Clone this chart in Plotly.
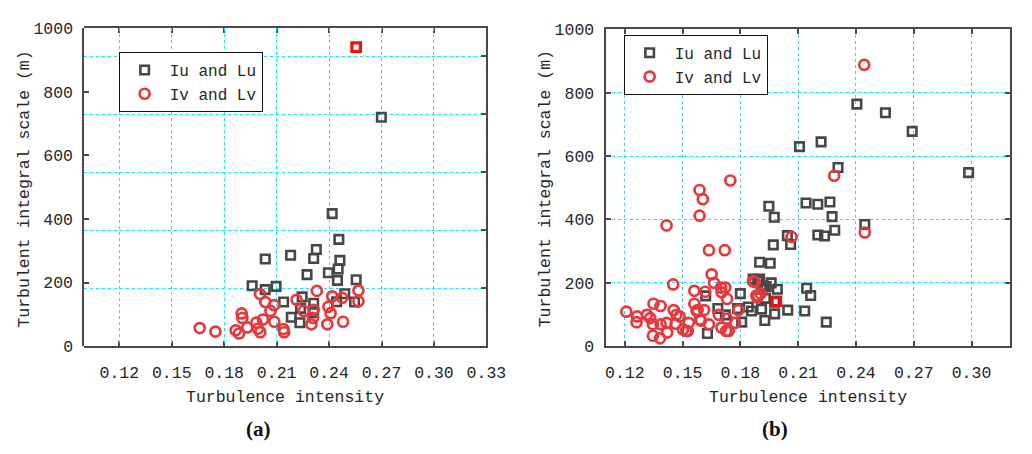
import plotly.graph_objects as go

# ---- (a) Iu/Lu and Iv/Lv samples ----
a_iu = [0.2418, 0.2456, 0.2327, 0.2312, 0.2035, 0.2180, 0.2462, 0.2452, 0.2396, 0.2274,
        0.2448, 0.2555, 0.1960, 0.2035, 0.2097, 0.2490, 0.2140, 0.2246, 0.2312, 0.2546,
        0.2443, 0.2184, 0.2233, 0.2237, 0.2312, 0.2699]
a_lu = [417, 336, 304, 276, 274, 286, 270, 243, 231, 225,
        207, 209, 190, 178, 188, 165, 139, 155, 135, 139,
        140, 91, 74, 119, 105, 720]
a_iu_hi = [0.2555]
a_lu_hi = [940]

a_iv = [0.1660, 0.1750, 0.1866, 0.1885, 0.1900, 0.1904, 0.1932, 0.1984, 0.1993, 0.2007,
        0.2005, 0.2022, 0.2035, 0.2065, 0.2085, 0.2087, 0.2139, 0.2143, 0.2214, 0.2255,
        0.2299, 0.2312, 0.2308, 0.2330, 0.2390, 0.2396, 0.2409, 0.2418, 0.2476, 0.2480,
        0.2568, 0.2568]
a_lv = [57, 46, 50, 40, 103, 89, 59, 74, 55, 44,
        164, 84, 139, 111, 129, 77, 54, 44, 146, 111,
        69, 114, 89, 174, 69, 124, 104, 157, 152, 77,
        175, 141]

# ---- (b) Iu/Lu and Iv/Lv samples ----
b_iu = [0.2405, 0.2553, 0.2692, 0.2107, 0.2219, 0.2307, 0.2985, 0.1948, 0.1976, 0.2141,
        0.2202, 0.2265, 0.2276, 0.2202, 0.2237, 0.2290, 0.2446, 0.1971, 0.2044, 0.2061,
        0.1900, 0.1955, 0.2144, 0.2165, 0.2134, 0.2246, 0.2046, 0.1978, 0.1927, 0.1910,
        0.1920, 0.1992, 0.1978, 0.1800, 0.1807, 0.1841, 0.1866, 0.1900, 0.1908, 0.1858,
        0.1934, 0.1930, 0.1683, 0.1620, 0.1629, 0.1722, 0.1785, 0.1960, 0.1890]
b_lu = [764, 737, 678, 630, 645, 564, 548, 442, 407, 452,
        448, 455, 409, 351, 348, 366, 384, 320, 349, 321,
        265, 262, 183, 160, 111, 76, 114, 102, 81, 117,
        190, 180, 139, 166, 76, 124, 212, 212, 180, 111,
        188, 151, 119, 159, 40, 99, 119, 200, 205]
b_iu_hi = [0.1987]
b_lu_hi = [142]

b_iv = [0.2443, 0.2287, 0.2446, 0.2066, 0.1748, 0.1588, 0.1605, 0.1588, 0.1417, 0.1637,
        0.1719, 0.1451, 0.1208, 0.1264, 0.1261, 0.1315, 0.1332, 0.1349, 0.1386, 0.1346,
        0.1346, 0.1383, 0.1386, 0.1420, 0.1417, 0.1454, 0.1468, 0.1464, 0.1502, 0.1519,
        0.1532, 0.1485, 0.1561, 0.1561, 0.1573, 0.1590, 0.1617, 0.1612, 0.1637, 0.1651,
        0.1663, 0.1688, 0.1702, 0.1703, 0.1722, 0.1731, 0.1731, 0.1726, 0.1773, 0.1790,
        0.1875, 0.1892, 0.1905, 0.1888, 0.1700, 0.1578, 0.1595, 0.1527, 0.1739, 0.1866,
        0.1883]
b_lv = [888, 538, 359, 345, 523, 493, 464, 412, 381, 303,
        303, 195, 109, 94, 76, 99, 89, 134, 127, 69,
        33, 25, 69, 43, 74, 114, 99, 71, 53, 48,
        74, 94, 175, 134, 111, 84, 172, 114, 69, 227,
        200, 99, 59, 170, 185, 149, 87, 48, 74, 114,
        203, 159, 166, 154, 185, 114, 81, 48, 48, 205,
        160]

x_ticks_a = [0.12, 0.15, 0.18, 0.21, 0.24, 0.27, 0.30, 0.33]
x_ticks_b = [0.12, 0.15, 0.18, 0.21, 0.24, 0.27, 0.30]
y_ticks = [0, 200, 400, 600, 800, 1000]

W, H = 1032, 454
GRAY = "#474747"
RED = "#e8383c"
HI = "#ff0a0a"
GRID = "#1fe3ef"
AXC = "#4a4a4a"
FONT = "Liberation Mono"
TXT = "#262626"
CLEAR = "rgba(0,0,0,0)"

sq = dict(symbol="square-open", size=8.5, color=GRAY, line=dict(width=2.6, color=GRAY))
ci = dict(symbol="circle-open", size=10, color=RED, line=dict(width=2.7, color=RED))
hi = dict(symbol="square-open", size=8.5, color=HI, line=dict(width=3.2, color=HI))

fig = go.Figure()
# panel (a): base subplot x/y carries the frame and the horizontal grid spacing
fig.add_trace(go.Scatter(x=[], y=[], mode="markers", showlegend=False,
                         xaxis="x", yaxis="y"))
# panel (a) data on x3/y3 (same domain, drawn above the grid)
fig.add_trace(go.Scatter(x=a_iu, y=a_lu, mode="markers", marker=sq, name="Iu and Lu",
                         xaxis="x3", yaxis="y3", legend="legend"))
fig.add_trace(go.Scatter(x=a_iv, y=a_lv, mode="markers", marker=ci, name="Iv and Lv",
                         xaxis="x3", yaxis="y3", legend="legend"))
fig.add_trace(go.Scatter(x=a_iu_hi, y=a_lu_hi, mode="markers", marker=hi, showlegend=False,
                         xaxis="x3", yaxis="y3"))
# panel (b)
fig.add_trace(go.Scatter(x=b_iu, y=b_lu, mode="markers", marker=sq, name="Iu and Lu",
                         xaxis="x2", yaxis="y2", legend="legend2"))
fig.add_trace(go.Scatter(x=b_iv, y=b_lv, mode="markers", marker=ci, name="Iv and Lv",
                         xaxis="x2", yaxis="y2", legend="legend2"))
fig.add_trace(go.Scatter(x=b_iu_hi, y=b_lu_hi, mode="markers", marker=hi, showlegend=False,
                         xaxis="x2", yaxis="y2"))

tickfont = dict(family=FONT, size=16.5, color=TXT)
grid = dict(showgrid=True, gridcolor=GRID, griddash="dot", gridwidth=1)
common_x = dict(showline=True, linecolor=AXC, linewidth=2, mirror="ticks",
                ticks="inside", ticklen=5, tickwidth=1.5, tickcolor=AXC,
                zeroline=False, tickfont=tickfont, ticklabelstandoff=10)
tick_y = dict(ticks="inside", ticklen=5, tickwidth=1.5, tickcolor=AXC,
              showline=True, linecolor=AXC, linewidth=2, zeroline=False)

ybot = (H - 353) / H
dom_a = [86 / W, 496 / W]
ydom_a = [ybot, (H - 21) / H]
fig.update_layout(
    width=W, height=H, margin=dict(l=0, r=0, t=0, b=0),
    paper_bgcolor="white", plot_bgcolor=CLEAR,
    xaxis=dict(common_x, domain=dom_a, range=[0.10, 0.33], showgrid=False,
               tickvals=x_ticks_a, ticktext=[f"{v:.2f}" for v in x_ticks_a], anchor="y"),
    yaxis=dict(**tick_y, **grid, domain=ydom_a, range=[0, 1097], dtick=200, side="right",
               anchor="x", showticklabels=False),
    xaxis3=dict(grid, domain=dom_a, range=[0.10, 0.33], tickvals=x_ticks_a,
                showticklabels=False, showline=False, ticks="", zeroline=False,
                anchor="y3"),
    yaxis3=dict(tick_y, domain=ydom_a, range=[0, 1000], tickvals=y_ticks, side="left",
                anchor="x3", showgrid=False, tickfont=tickfont, ticklabelstandoff=6),
    xaxis2=dict(**common_x, **grid, domain=[617.5 / W, 1030 / W], range=[0.11, 0.32],
                tickvals=x_ticks_b, ticktext=[f"{v:.2f}" for v in x_ticks_b], anchor="y2"),
    yaxis2=dict(**tick_y, **grid, domain=[ybot, (H - 22.3) / H], range=[0, 1000],
                tickvals=y_ticks, mirror="ticks", tickfont=tickfont, anchor="x2",
                ticklabelstandoff=6),
    legend=dict(x=121 / W, y=(H - 46) / H, xanchor="left", yanchor="top",
                bgcolor="white", bordercolor="#111", borderwidth=1,
                font=dict(family=FONT, size=16, color=TXT), itemwidth=40,
                tracegroupgap=0),
    legend2=dict(x=636 / W, y=(H - 28) / H, xanchor="left", yanchor="top",
                 bgcolor="white", bordercolor="#111", borderwidth=1,
                 font=dict(family=FONT, size=16, color=TXT), itemwidth=40,
                 tracegroupgap=0),
)

ann_font = dict(family=FONT, size=16.5, color=TXT)
for xc in (291, 824):
    fig.add_annotation(text="Turbulence intensity", x=xc / W, y=(H - 406) / H,
                       xref="paper", yref="paper", showarrow=False, font=ann_font,
                       xanchor="center", yanchor="middle")
for xc in (25, 556):
    fig.add_annotation(text="Turbulent integral scale (m)", x=xc / W, y=(H - 189) / H,
                       xref="paper", yref="paper", showarrow=False, font=ann_font,
                       textangle=-90, xanchor="center", yanchor="middle")
lab_font = dict(family="Liberation Serif", size=21, color="#111")
for txt, xc in (("<b>(a)</b>", 264), ("<b>(b)</b>", 790)):
    fig.add_annotation(text=txt, x=xc / W, y=(H - 439) / H, xref="paper",
                       yref="paper", showarrow=False, font=lab_font,
                       xanchor="center", yanchor="middle")

fig.write_html("out.html")
